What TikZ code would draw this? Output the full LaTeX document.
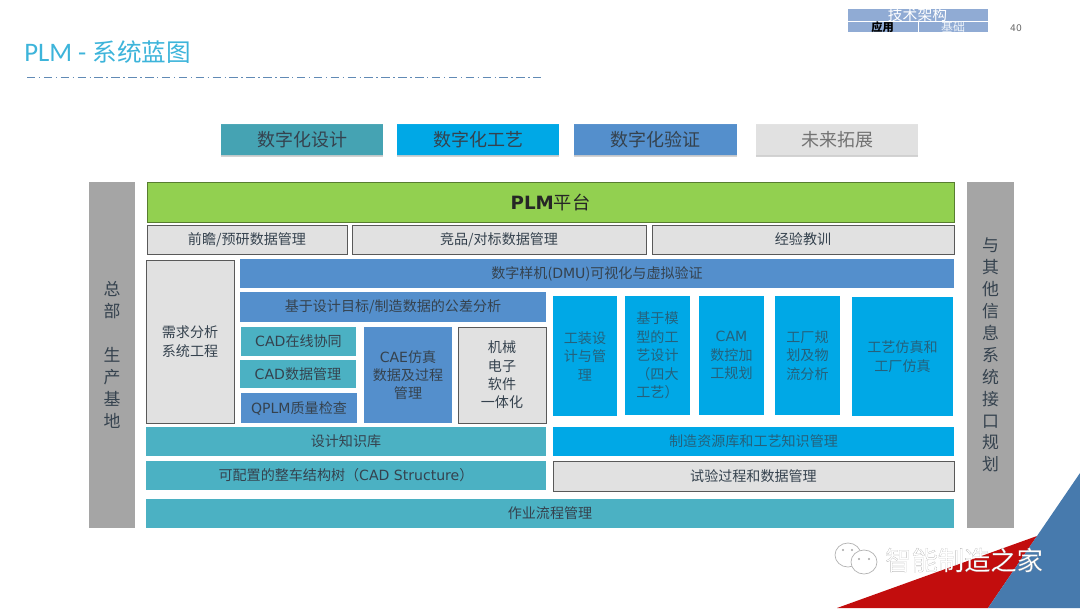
\documentclass[tikz,border=0pt]{standalone}
\usepackage{fontspec}
\setmainfont{Noto Sans CJK SC}
\newfontfamily\latfont{DejaVu Sans}
\newfontfamily\titlefont{Carlito}
\newfontfamily\markfont[FakeBold=0.25]{Noto Sans CJK SC}
\newcommand{\lat}[1]{{\latfont #1}}
\usetikzlibrary{shadows}
\definecolor{tealbox}{HTML}{4BB1C3}
\definecolor{bluebox}{HTML}{548FCC}
\definecolor{cyanbox}{HTML}{00A8E6}
\definecolor{greenbox}{HTML}{92D050}
\definecolor{greybox}{HTML}{E1E1E1}
\definecolor{sidebox}{HTML}{A5A5A5}
\definecolor{headbox}{HTML}{90ABD4}
\definecolor{inktext}{HTML}{35424E}
\definecolor{titleblue}{HTML}{3DB4DA}
\tikzset{
    block/.style={inner sep=0pt,align=center,text=inktext,font=\fontsize{10}{13}\selectfont},
    tealblock/.style={block,fill=tealbox},
    blueblock/.style={block,fill=bluebox},
    cyanblock/.style={block,fill=cyanbox,text=inktext!70!cyanbox,font=\fontsize{10}{13.2}\selectfont},
    greyblock/.style={block,fill=greybox,draw=black!65,line width=0.7pt},
    sideblock/.style={block,fill=sidebox,font=\fontsize{12}{15.6}\selectfont},
    button/.style n args={3}{inner sep=0pt,fill=#1,text=inktext,
        font=\fontsize{12.8}{15}\selectfont,drop shadow={shadow xshift=0pt,shadow yshift=-1.2pt,opacity=0.35},
        path picture={
            \fill[#2](path picture bounding box.north west)--(path picture bounding box.north east)
                --++(-0.3,-0.12)--([shift={(0.3,-0.12)}]path picture bounding box.north west)--cycle;
            \fill[#3](path picture bounding box.south west)--(path picture bounding box.south east)
                --++(-0.3,0.1)--([shift={(0.3,0.1)}]path picture bounding box.south west)--cycle;
        }},
}
\begin{document}
\begin{tikzpicture}[x=0.025cm,y=-0.025cm]
    \useasboundingbox(0,0)rectangle(1080,608);
    % corner
    \fill[red!75!black!95!white](837,608)--(1037,536)--(988,608)--cycle;
    \fill[bluebox!85!black](1080,473)--(1037,536)--(988,608)--(1080,608)--cycle;
    % title
    \node[anchor=west,inner sep=0pt,text=titleblue,font=\fontsize{17.5}{20}\selectfont] (title) at (24,52)
        {{\titlefont\fontsize{19}{20}\selectfont PLM - }系统蓝图};
    \draw[bluebox!70!gray,line width=0.7pt,dash pattern=on 6pt off 2.5pt on 1pt off 2.5pt](27,77)--(541,77);
    % header
    \node[fill=headbox,draw=white,line width=0.4pt,minimum width=3.525cm,minimum height=0.35cm,inner sep=0pt,text=white,font=\fontsize{10.5}{11}\selectfont] (headtop) at (917.5,15) {技术架构};
    \node[fill=headbox,draw=white,line width=0.4pt,minimum width=1.775cm,minimum height=0.25cm,inner sep=0pt,font=\bfseries\fontsize{8}{9}\selectfont,text=black] (headleft) at (882.5,27) {应用};
    \node[fill=headbox,draw=white,line width=0.4pt,minimum width=1.75cm,minimum height=0.25cm,inner sep=0pt,font=\fontsize{8.5}{9}\selectfont,text=white!85!headbox] (headright) at (953,27) {基础};
    \node[text=black!60,inner sep=0pt,font=\latfont\fontsize{6.5}{8}\selectfont] (pagenum) at (1016,28) {40};
    % top buttons
    \node[button={tealbox!92!black}{tealbox!55!white}{tealbox!75!black},minimum width=4.05cm,minimum height=0.775cm] (design) at (302,139.5) {数字化设计};
    \node[button={cyanbox}{cyanbox!60!white}{cyanbox!80!black},minimum width=4.05cm,minimum height=0.775cm] (process) at (478,139.5) {数字化工艺};
    \node[button={bluebox}{bluebox!60!white}{bluebox!75!black},minimum width=4.075cm,minimum height=0.775cm] (verify) at (655.5,139.5) {数字化验证};
    \node[button={greybox}{white!95!black}{black!25},text=black!55,minimum width=4.05cm,minimum height=0.775cm] (future) at (837,139.5) {未来拓展};
    % side bars
    \node[sideblock,minimum width=1.15cm,minimum height=8.65cm] (hq) at (112,355) {总\\部\\~\\生\\产\\基\\地};
    \node[sideblock,minimum width=1.175cm,minimum height=8.65cm] (iface) at (990.5,355) {与\\其\\他\\信\\息\\系\\统\\接\\口\\规\\划};
    % platform
    \node[block,fill=greenbox,draw=black!40!greenbox,line width=0.4pt,text=black!85,font=\fontsize{13}{15}\selectfont,minimum width=20.175cm,minimum height=1cm] (plm) at (550.5,202) {\lat{\bfseries PLM}平台};
    % blocks: name/left/top/right/bottom/text
    \foreach \n/\l/\t/\r/\b/\s in {
        pre/147/225/347/254/{前瞻/预研数据管理},
        bench/352/225/646/254/{竞品/对标数据管理},
        lesson/652/225/954/254/{经验教训},
        req/146/260/234/423/{需求分析\\系统工程},
        mech/458/327/546/423/{机械\\电子\\软件\\一体化},
        test/553/461/954/491/{试验过程和数据管理}}
    {
        \node[greyblock,minimum width={(\r-\l)*0.025cm},minimum height={(\b-\t)*0.025cm}] (\n) at ({(\l+\r)/2},{(\t+\b)/2}) {\s};
    }
    \foreach \n/\l/\t/\r/\b/\s in {
        dmu/240/259/954/288/{数字样机(\lat{DMU})可视化与虚拟验证},
        tol/240/292/546/322/{基于设计目标/制造数据的公差分析},
        qplm/241/393/357/423/{\lat{QPLM}质量检查},
        cae/364/327/452/423/{\lat{CAE}仿真\\数据及过程\\管理}}
    {
        \node[blueblock,minimum width={(\r-\l)*0.025cm},minimum height={(\b-\t)*0.025cm}] (\n) at ({(\l+\r)/2},{(\t+\b)/2}) {\s};
    }
    \foreach \n/\l/\t/\r/\b/\s in {
        online/241/327/356/356/{\lat{CAD}在线协同},
        cadmgr/240/360/356/388/{\lat{CAD}数据管理},
        know/146/427/546/456/{设计知识库},
        tree/146/461/546/490/{可配置的整车结构树（\lat{CAD Structure}）},
        flow/146/499/954/528/{作业流程管理}}
    {
        \node[tealblock,minimum width={(\r-\l)*0.025cm},minimum height={(\b-\t)*0.025cm}] (\n) at ({(\l+\r)/2},{(\t+\b)/2}) {\s};
    }
    \foreach \n/\l/\t/\r/\b/\s in {
        tool/553/296/617/416/{工装设\\计与管\\理},
        mbd/625/296/690/415/{基于模\\型的工\\艺设计\\（四大\\工艺）},
        cam/699/296/764/415/{\lat{CAM}\\数控加\\工规划},
        plant/775/296/840/415/{工厂规\\划及物\\流分析},
        sim/852/297/953/416/{工艺仿真和\\工厂仿真},
        res/553/427/954/456/{制造资源库和工艺知识管理}}
    {
        \node[cyanblock,minimum width={(\r-\l)*0.025cm},minimum height={(\b-\t)*0.025cm}] (\n) at ({(\l+\r)/2},{(\t+\b)/2}) {\s};
    }
    % watermark
    \draw[black!30,fill=white,line width=0.5pt](848,555)ellipse(13 and 12);
    \draw[black!30,fill=white,line width=0.5pt](864,562)ellipse(13 and 12);
    \fill[black!35](843,550)circle(1.2)(852,550)circle(1.2)(859,559)circle(1.2)(869,559)circle(1.2);
    \node[inner sep=0pt,text=white,font=\markfont\fontsize{18.7}{20}\selectfont] (mark) at (964,560) {\special{pdf:code 0.55 G}智能制造之家\special{pdf:code 0 G}};
\end{tikzpicture}
\end{document}
